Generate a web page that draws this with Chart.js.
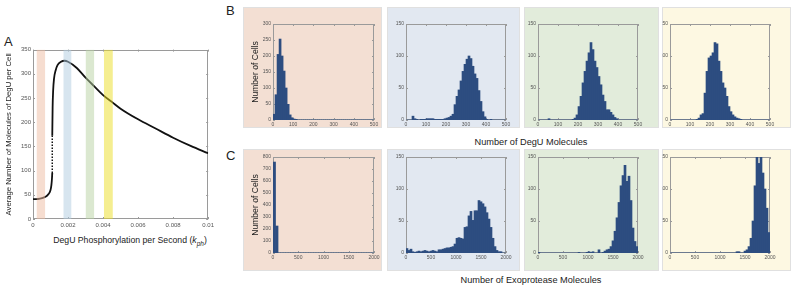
<!DOCTYPE html>
<html>
<head>
<meta charset="utf-8">
<script src="https://cdn.jsdelivr.net/npm/chart.js@4.4.0/dist/chart.umd.min.js"></script>
<style>
  body { margin: 0; width: 798px; height: 289px; overflow: hidden; position: relative; background: #fff;
         font-family: 'Liberation Sans', Arial, Helvetica, sans-serif; }
  .box { position: absolute; box-sizing: border-box; border: 1px solid #e0e0e0; }
  canvas { position: absolute; }
  .lbl { position: absolute; color: #222; white-space: nowrap; }
  .letter { font-size: 13px; }
  .title { font-size: 9.2px; text-align: center; width: 240px; }
</style>
</head>
<body>
<div class="lbl letter" style="left:4px;top:34px;">A</div>
<div class="lbl letter" style="left:226px;top:3px;">B</div>
<div class="lbl letter" style="left:226px;top:148px;">C</div>
<div class="lbl title" style="left:411px;top:137px;">Number of DegU Molecules</div>
<div class="lbl title" style="left:411px;top:275px;">Number of Exoprotease Molecules</div>
<div class="lbl" style="left:30px;top:235px;width:200px;text-align:center;font-size:8.7px;">DegU Phosphorylation per Second (<i>k<sub style="font-size:6.5px">ph</sub></i>)</div>

<script>
// ---------- panel A : bifurcation curve ----------
const kphLower  = [0, 0.0002, 0.0004, 0.0006, 0.0008, 0.0009, 0.001, 0.00105, 0.00108, 0.0011];
const degULower = [41, 41, 42, 44, 48, 52, 60, 70, 82, 95];
const kphFold   = [0.0011, 0.0011];
const degUFold  = [95, 172];
const kphUpper  = [0.0011, 0.00112, 0.00115, 0.0012, 0.0013, 0.0014, 0.0016, 0.0018, 0.002, 0.0025,
                   0.003, 0.0035, 0.004, 0.0045, 0.005, 0.006, 0.007, 0.008, 0.009, 0.01];
const degUUpper = [172, 230, 265, 290, 308, 318, 325, 327, 325, 312,
                   292, 274, 256, 242, 228, 206, 187, 168, 151, 136];

const bandStart = [0.0002, 0.00173, 0.003, 0.00405];
const bandEnd   = [0.0007, 0.0022, 0.0035, 0.00456];
const bandColors = ['rgba(237,187,161,0.5)', 'rgba(175,203,223,0.5)', 'rgba(183,209,161,0.5)', 'rgba(235,221,33,0.5)'];

const kphTicks = [0, 0.002, 0.004, 0.006, 0.008, 0.01];

// ---------- panel B : DegU histograms (bins of 10 molecules, 0-500) ----------
const degUBin = 10;
const degUOrange = [18,79,205,253,200,153,100,49,16,7, 3,2,0,0,0,0,0,0,0,0, 0,0,0,0,0,0,0,0,0,0,
                    0,0,0,0,0,0,0,0,0,0, 0,0,0,0,0,0,0,0,0,0];
const degUBlue   = [0,0,0,6,2,1,0,1,1,1, 2,2,2,2,1,1,1,1,1,2, 3,4,6,9,24,37,47,61,76,87,
                    95,100,96,84,72,65,46,29,13,5, 1,0,1,0,0,0,0,0,0,0];
const degUGreen  = [0,0,0,0,0,2,0,0,0,0, 0,0,0,0,0,0,0,1,3,8, 21,37,58,76,92,105,121,110,92,82,
                    68,55,39,29,16,16,12,8,4,2, 0,0,0,0,0,0,0,0,0,0];
const degUYellow = [0,0,0,0,0,0,0,0,0,0, 0,0,0,1,3,8,10,42,76,97, 100,105,121,119,92,76,58,50,37,21,
                    13,8,5,3,2,1,0,0,0,0, 0,0,0,0,0,0,0,0,0,0];

// ---------- panel C : exoprotease histograms (0-2000) ----------
const exoOrangeBin = 50;
const exoOrange = [758,225,0,0,0,0,0,0,0,0, 0,0,0,0,0,0,0,0,0,0, 0,0,0,0,0,0,0,0,0,0, 0,0,0,0,0,0,0,0,0,0];
const exoBin = 40;
const exoBlue   = [7,4,6,2,1,2,3,2,3,4, 3,2,3,4,3,2,5,5,6,7, 8,8,9,10,14,23,24,23,22,40,
                   41,58,65,51,66,66,82,80,77,72, 63,53,40,23,10,4,2,2,0,0];
const exoGreen  = [1,0,0,0,0,0,0,0,0,0, 0,0,0,0,0,0,0,0,0,0, 1,0,0,0,1,2,1,2,0,0,
                   5,0,1,3,5,6,10,19,34,55, 79,105,121,137,112,120,82,39,18,10];
const exoYellow = [0,0,0,0,0,0,0,0,0,0, 0,0,0,0,0,0,0,0,0,0, 0,0,0,0,0,0,0,0,0,0,
                   0,0,0,2,2,0,0,3,5,10, 23,50,105,150,140,150,125,100,70,32];

/* ===================== setup ===================== */

Chart.defaults.font.family = "'Liberation Sans', Arial, Helvetica, sans-serif";
Chart.defaults.animation = false;
Chart.defaults.events = [];
Chart.defaults.plugins.legend.display = false;
Chart.defaults.plugins.tooltip.enabled = false;

const barColor = '#2d4d80';
const axisGray = '#9a9a9a';

// matlab style box with inward ticks on all four sides
const framePlugin = {
  id: 'frame',
  beforeDatasetsDraw(chart, args, opts) {
    const { ctx, chartArea: a, scales } = chart;
    const len = opts.len || 2;
    ctx.save();
    ctx.strokeStyle = opts.color || axisGray;
    ctx.lineWidth = 1;
    ctx.strokeRect(Math.round(a.left) + 0.5, Math.round(a.top) + 0.5,
                   Math.round(a.width) - 1, Math.round(a.height) - 1);
    ctx.beginPath();
    scales.x.ticks.forEach(t => {
      let px = Math.round(scales.x.getPixelForValue(t.value)) + 0.5;
      ctx.moveTo(px, a.bottom); ctx.lineTo(px, a.bottom - len);
      ctx.moveTo(px, a.top); ctx.lineTo(px, a.top + len);
    });
    scales.y.ticks.forEach(t => {
      let py = Math.round(scales.y.getPixelForValue(t.value)) + 0.5;
      ctx.moveTo(a.left, py); ctx.lineTo(a.left + len, py);
      ctx.moveTo(a.right, py); ctx.lineTo(a.right - len, py);
    });
    ctx.stroke();
    ctx.restore();
  }
};

function addCanvas(left, top, w, h) {
  let c = document.createElement('canvas');
  c.width = w; c.height = h;
  c.style.left = left + 'px'; c.style.top = top + 'px';
  c.style.width = w + 'px'; c.style.height = h + 'px';
  document.body.appendChild(c);
  return c;
}

let zip = (xs, ys) => xs.map((x, i) => ({ x: x, y: ys[i] }));
const noGrid = { display: false, drawTicks: false };

/* ===================== panel A ===================== */

let Ea = addCanvas(0, 44, 217, 206);

let bandSets = bandStart.map((s, i) => ({
  data: [{ x: s, y: 350 }, { x: bandEnd[i], y: 350 }],
  fill: 'origin',
  backgroundColor: bandColors[i],
  borderWidth: 0,
  pointRadius: 0,
  order: 0
}));

new Chart(Ea, {
  type: 'line',
  data: {
    datasets: [
      ...bandSets,
      { data: zip(kphLower, degULower), borderColor: '#111', borderWidth: 1.8, pointRadius: 0,
        cubicInterpolationMode: 'monotone', order: 1 },
      { data: zip(kphFold, degUFold), borderColor: '#111', borderWidth: 1.5, borderDash: [1.5, 1.5],
        pointRadius: 0, order: 1 },
      { data: zip(kphUpper, degUUpper), borderColor: '#111', borderWidth: 1.8, pointRadius: 0,
        cubicInterpolationMode: 'monotone', order: 1 }
    ]
  },
  options: {
    responsive: false,
    layout: { padding: { top: 4, right: 6, left: 0, bottom: 0 } },
    scales: {
      x: {
        type: 'linear', min: 0, max: 0.01,
        grid: noGrid, border: { display: false },
        afterBuildTicks: s => { s.ticks = kphTicks.map(v => ({ value: v })); },
        ticks: { font: { size: 6 }, color: '#555', padding: 3, maxRotation: 0, autoSkip: false,
                 callback: v => String(+v.toFixed(4)) },
        afterFit: s => { s.height = 31; }
      },
      y: {
        min: 0, max: 350,
        grid: noGrid, border: { display: false },
        ticks: { stepSize: 50, font: { size: 6 }, color: '#555', padding: 2 },
        title: { display: true, text: 'Average Number of Molecules of DegU per Cell',
                 font: { size: 7.7 }, color: '#222', padding: { top: 4, bottom: 0 } },
        afterFit: s => { s.width = 33; }
      }
    },
    plugins: { frame: { color: axisGray, len: 2 } }
  },
  plugins: [framePlugin]
});

/* ===================== histograms ===================== */

const cols = [
  { bg: '#f3dfd3', box: [243, 382], plot: [273, 374] },
  { bg: '#e2e8f1', box: [387, 520], plot: [406, 506] },
  { bg: '#e2ecdb', box: [524, 659], plot: [538, 638] },
  { bg: '#fdf8e2', box: [662, 791], plot: [670, 770] }
];
const rows = [
  { box: [7, 128], plot: [24, 120] },
  { box: [149, 271], plot: [157, 253] }
];

function histChart(col, row, counts, bin, xMax, xStep, yMax, yStep, yTitle) {
  let c = cols[col], r = rows[row];
  let box = document.createElement('div');
  box.className = 'box';
  box.style.cssText = `left:${c.box[0]}px;top:${r.box[0]}px;width:${c.box[1] - c.box[0]}px;` +
                      `height:${r.box[1] - r.box[0]}px;background:${c.bg};`;
  document.body.appendChild(box);

  let w = c.box[1] - c.box[0], h = r.box[1] - r.box[0];
  let canvas = addCanvas(c.box[0], r.box[0], w, h);
  let yw = c.plot[0] - c.box[0];
  let xh = r.box[1] - r.plot[1];

  return new Chart(canvas, {
    type: 'bar',
    data: {
      datasets: [{
        data: counts.map((n, i) => ({ x: (i + 0.5) * bin, y: n })),
        backgroundColor: barColor,
        borderWidth: 0,
        barPercentage: 1,
        categoryPercentage: 1
      }]
    },
    options: {
      responsive: false,
      layout: { padding: { top: r.plot[0] - r.box[0], right: c.box[1] - c.plot[1], left: 0, bottom: 0 } },
      scales: {
        x: {
          type: 'linear', min: 0, max: xMax, offset: false,
          grid: noGrid, border: { display: false },
          ticks: { stepSize: xStep, font: { size: 5 }, color: '#555', padding: 2, maxRotation: 0,
                   autoSkip: false, callback: v => String(v) },
          afterFit: s => { s.height = xh; }
        },
        y: {
          min: 0, max: yMax,
          grid: noGrid, border: { display: false },
          ticks: { stepSize: yStep, font: { size: 5 }, color: '#555', padding: 2 },
          title: yTitle ? { display: true, text: yTitle, font: { size: 8.6 }, color: '#222',
                            padding: { top: 7, bottom: 0 } } : { display: false },
          afterFit: s => { s.width = yw; }
        }
      },
      plugins: { frame: { color: axisGray, len: 2 } }
    },
    plugins: [framePlugin]
  });
}

histChart(0, 0, degUOrange, degUBin, 500, 100, 300, 50, 'Number of Cells');
histChart(1, 0, degUBlue,   degUBin, 500, 100, 150, 50);
histChart(2, 0, degUGreen,  degUBin, 500, 100, 150, 50);
histChart(3, 0, degUYellow, degUBin, 500, 100, 150, 50);

histChart(0, 1, exoOrange, exoOrangeBin, 2000, 500, 800, 100, 'Number of Cells');
histChart(1, 1, exoBlue,   exoBin, 2000, 500, 150, 50);
histChart(2, 1, exoGreen,  exoBin, 2000, 500, 150, 50);
histChart(3, 1, exoYellow, exoBin, 2000, 500, 150, 50);
</script>
</body>
</html>
